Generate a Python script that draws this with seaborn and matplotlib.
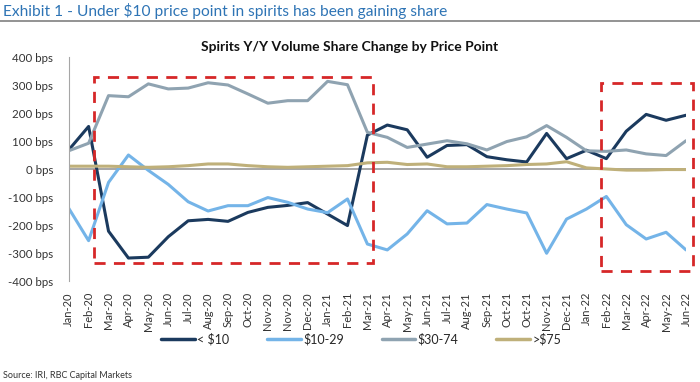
import numpy as np
import pandas as pd
import matplotlib
matplotlib.use("Agg")
import matplotlib.pyplot as plt
from matplotlib.patches import Rectangle
import seaborn as sns

months = ["Jan-20", "Feb-20", "Mar-20", "Apr-20", "May-20", "Jun-20", "Jul-20", "Aug-20",
          "Sep-20", "Oct-20", "Nov-20", "Nov-20", "Dec-20", "Jan-21", "Feb-21", "Mar-21",
          "Apr-21", "May-21", "Jun-21", "Jul-21", "Aug-21", "Sep-21", "Oct-21", "Oct-21",
          "Nov-21", "Dec-21", "Jan-22", "Feb-22", "Mar-22", "Apr-22", "May-22", "Jun-22"]

under10 = [68, 152, -222, -318, -315, -242, -185, -180, -187, -155, -137, -130, -120, -161, -202, 121,
           157, 140, 42, 84, 87, 44, 33, 25, 127, 37, 67, 37, 135, 195, 174, 192]
p10_29 = [-140, -256, -48, 50, -5, -55, -117, -150, -131, -131, -102, -119, -143, -156, -107, -268,
          -289, -232, -149, -196, -193, -127, -143, -157, -301, -179, -143, -98, -199, -250, -226, -289]
p30_74 = [65, 92, 262, 258, 304, 286, 289, 308, 300, 268, 235, 244, 244, 313, 301, 131,
          113, 77, 89, 101, 90, 68, 98, 115, 155, 113, 65, 63, 68, 54, 48, 101]
over75 = [10, 10, 10, 8, 6, 8, 12, 18, 18, 12, 8, 6, 8, 10, 12, 22,
          24, 16, 18, 8, 8, 10, 12, 16, 18, 26, 4, 0, -4, -4, -2, -2]

series_names = ["< $10", "$10-29", "$30-74", ">$75"]
colors = ["#1b3a5e", "#74b4e8", "#8fa3b1", "#bfb07a"]

# highlight boxes: (x0, x1, y0, y1) in category index / bps
boxes = [(1.26, 15.29, -337, 330), (26.75, 31.36, -363, 307)]

rows = []
for name, vals in zip(series_names, [under10, p10_29, p30_74, over75]):
    for i, v in enumerate(vals):
        rows.append({"idx": i, "bps": v, "series": name})
df = pd.DataFrame(rows)

sns.set_style("white")
plt.rcParams["font.family"] = ["Lato", "DejaVu Sans"]

fig = plt.figure(figsize=(7, 3.82), dpi=100)
ax = fig.add_axes([68.7 / 700, 1 - 281 / 382, (686 - 68.7) / 700, (281 - 57) / 382])

sns.lineplot(data=df, x="idx", y="bps", hue="series", palette=colors,
             hue_order=series_names, linewidth=2.2, ax=ax, legend=False)
ax.axhline(0, color="#a6a6a6", lw=1.4, zorder=1)

ax.set_xlim(0, 31)
ax.set_ylim(-400, 400)
ax.set_xticks(range(len(months)))
ax.set_xticklabels(months, rotation=90, fontsize=8, color="#333333")
yt = np.arange(-400, 401, 100)
ax.set_yticks(yt)
ax.set_yticklabels([f"{v} bps" for v in yt], fontsize=8.3, color="#333333")
ax.tick_params(axis="x", length=0, pad=8)
ax.tick_params(axis="y", length=3, color="#a6a6a6", pad=8)
ax.set_xlabel("")
ax.set_ylabel("")
for s in ["top", "right", "bottom"]:
    ax.spines[s].set_visible(False)
ax.spines["left"].set_color("#a6a6a6")

for x0, x1, y0, y1 in boxes:
    ax.add_patch(Rectangle((x0, y0), x1 - x0, y1 - y0, fill=False, edgecolor="#d62728",
                           lw=2, linestyle=(0, (4, 3)), clip_on=False, zorder=5))

handles = [plt.Line2D([], [], color=c, lw=2.5) for c in colors]
fig.legend(handles, series_names, loc="center", bbox_to_anchor=(0.516, 1 - 339 / 382), ncol=4,
           frameon=False, fontsize=9, handlelength=2.7, handletextpad=0.2, columnspacing=3.0)

fig.text(0.004, 1 - 11 / 382, "Exhibit 1 - Under $10 price point in spirits has been gaining share",
         fontsize=11.2, color="#2e74b5", va="center", ha="left")
fig.add_artist(plt.Line2D([0, 1], [1 - 20.5 / 382] * 2, color="#808080", lw=1.2))
fig.text(0.5, 1 - 47 / 382, "Spirits Y/Y Volume Share Change by Price Point",
         fontsize=10, fontweight="bold", color="#111111", ha="center", va="center")
fig.text(0.004, 1 - 376 / 382, "Source: IRI, RBC Capital Markets",
         fontsize=6.5, color="#333333", ha="left", va="center")

fig.savefig("out.png", dpi=100)
